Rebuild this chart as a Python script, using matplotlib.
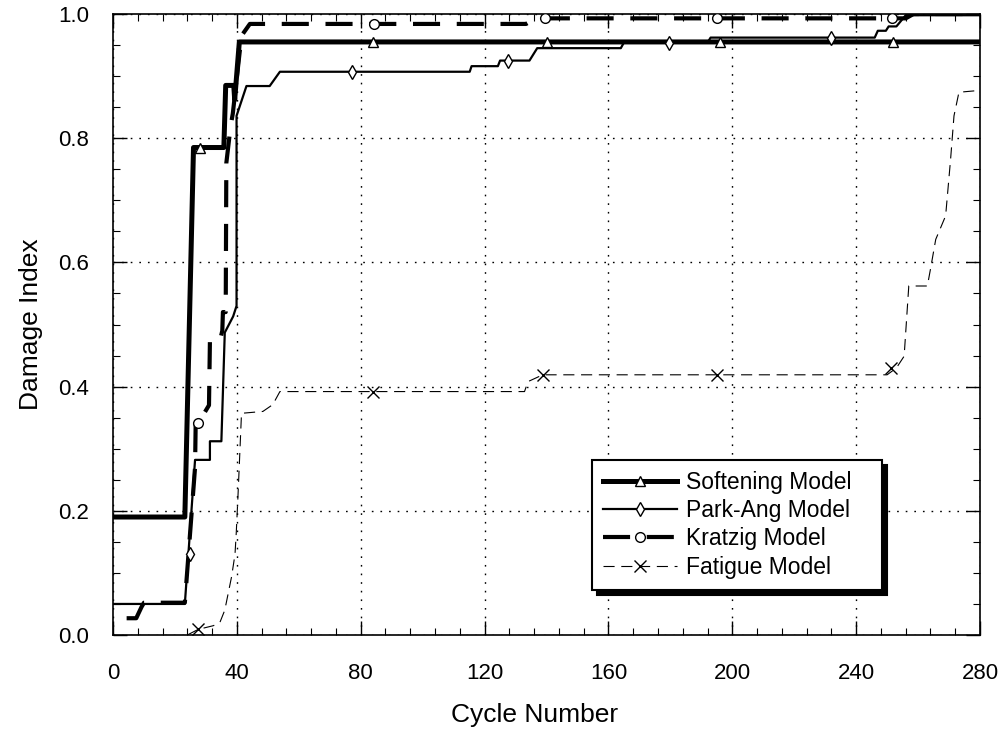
import matplotlib
matplotlib.use("Agg")
import matplotlib.pyplot as plt
from matplotlib.lines import Line2D
from matplotlib.ticker import MultipleLocator, FormatStrFormatter

plt.rcParams['font.family'] = ['Liberation Sans', 'DejaVu Sans']

# ---------------- data ----------------
soft_x = [0, 23.2, 26.0, 35.8, 36.4, 39.0, 39.3, 40.8, 280]
soft_y = [0.19, 0.19, 0.785, 0.785, 0.885, 0.885, 0.862, 0.955, 0.955]
soft_mx = [28, 84, 140, 196, 252]
soft_my = [0.785, 0.955, 0.955, 0.955, 0.955]

park_x = [0, 23.2, 26.5, 31.3, 31.3, 35.0, 36.1, 38.8, 39.9, 39.9, 43.1, 50.6, 53.9,
          115.2, 115.8, 124.3, 125.0, 134.5, 137.0, 164.0, 165.0, 192.0, 193.0,
          246.0, 247.0, 249.6, 250.5, 253.0, 256.0, 280]
park_y = [0.05, 0.05, 0.282, 0.282, 0.312, 0.312, 0.487, 0.513, 0.53, 0.836, 0.884, 0.884, 0.907,
          0.907, 0.916, 0.916, 0.925, 0.925, 0.945, 0.945, 0.954, 0.954, 0.962,
          0.962, 0.973, 0.973, 0.98, 0.98, 0.998, 0.998]
park_mx = [24.8, 77.3, 127.5, 179.7, 232.0]
park_my = [0.13, 0.907, 0.925, 0.954, 0.962]

krat_x = [4.4, 7.5, 9.2, 10.0, 23.2, 26.5, 26.7, 28.0, 31.0, 31.3, 34.5, 35.3, 35.5, 36.4,
          36.6, 38.0, 38.7, 41.5, 44.2, 133.4, 136.7, 256.0, 258.5, 280]
krat_y = [0.027, 0.027, 0.045, 0.052, 0.052, 0.27, 0.34, 0.345, 0.37, 0.473, 0.473, 0.49, 0.52, 0.52,
          0.76, 0.82, 0.84, 0.965, 0.984, 0.984, 0.993, 0.993, 1.0, 1.0]
krat_mx = [27.5, 84.3, 139.4, 195.0, 251.6]
krat_my = [0.341, 0.984, 0.993, 0.993, 0.993]

fat_x = [24.0, 27.5, 32.4, 34.5, 36.1, 38.3, 39.4, 39.8, 40.4, 41.5, 48.4, 51.6, 53.9,
         132.9, 134.0, 138.8, 250.0, 253.0, 255.5, 257.0, 263.0, 264.0, 265.7, 268.9,
         270.5, 271.6, 273.2, 280]
fat_y = [0.0, 0.009, 0.015, 0.02, 0.04, 0.094, 0.13, 0.164, 0.228, 0.357, 0.36, 0.371, 0.392,
         0.392, 0.408, 0.419, 0.419, 0.43, 0.449, 0.562, 0.562, 0.589, 0.637, 0.675,
         0.766, 0.836, 0.874, 0.877]
fat_mx = [27.5, 84.0, 138.8, 195.0, 251.2]
fat_my = [0.009, 0.392, 0.419, 0.419, 0.43]

series_names = ["Softening Model", "Park-Ang Model", "Kratzig Model", "Fatigue Model"]
x_ticks = [0, 40, 80, 120, 160, 200, 240, 280]
y_ticks = [0.0, 0.2, 0.4, 0.6, 0.8, 1.0]

# ---------------- figure ----------------
fig = plt.figure(figsize=(10.06, 7.34), dpi=100)
L, R, T, B = 113, 980, 14, 635
W, H = 1006, 734
ax = fig.add_axes([L / W, 1 - B / H, (R - L) / W, (B - T) / H])

# styles
st_soft = dict(color='black', lw=3.6, ls='-')
st_park = dict(color='black', lw=1.6, ls='-')
st_krat = dict(color='black', lw=3.0, ls=(0, (6.5, 4)))
st_fat = dict(color='black', lw=0.8, ls=(0, (10, 6)))
mk_soft = dict(marker='^', ms=7, mfc='white', mec='black', mew=1.0)
mk_park = dict(marker='d', ms=7, mfc='white', mec='black', mew=1.0)
mk_krat = dict(marker='o', ms=7, mfc='white', mec='black', mew=1.0)
mk_fat = dict(marker='x', ms=9, mfc='none', mec='black', mew=1.0)

ax.plot(fat_x, fat_y, **st_fat, zorder=3)
ax.plot(park_x, park_y, **st_park, zorder=4)
ax.plot(krat_x, krat_y, **st_krat, zorder=5)
ax.plot(soft_x, soft_y, **st_soft, zorder=6)

ax.plot(fat_mx, fat_my, ls='none', **mk_fat, zorder=7)
ax.plot(park_mx, park_my, ls='none', **mk_park, zorder=7)
ax.plot(krat_mx, krat_my, ls='none', **mk_krat, zorder=7)
ax.plot(soft_mx, soft_my, ls='none', **mk_soft, zorder=7)

ax.set_xlim(0, 280)
ax.set_ylim(0, 1.0)
ax.set_xticks(x_ticks)
ax.set_yticks(y_ticks)
ax.xaxis.set_minor_locator(MultipleLocator(8))
ax.yaxis.set_minor_locator(MultipleLocator(0.05))
ax.yaxis.set_major_formatter(FormatStrFormatter('%.1f'))
ax.tick_params(which='both', direction='in', top=True, right=True, colors='black')
ax.tick_params(which='major', length=10, width=1.0, labelsize=16)
ax.tick_params(which='minor', length=5, width=0.8)
ax.tick_params(axis='x', which='major', pad=20)
ax.tick_params(axis='y', which='major', pad=17)
for s in ax.spines.values():
    s.set_linewidth(1.2)

ax.grid(True, which='major', color='black', lw=1.0, ls=(0, (1.2, 5)))
ax.set_axisbelow(True)

fig.text(535 / W, 1 - 715 / H, "Cycle Number", ha='center', va='center', fontsize=19)
fig.text(31 / W, 1 - 324 / H, "Damage Index", ha='center', va='center', rotation=90, fontsize=19)

handles = [
    Line2D([], [], **st_soft, **mk_soft),
    Line2D([], [], **st_park, **mk_park),
    Line2D([], [], **st_krat, **mk_krat),
    Line2D([], [], **st_fat, **mk_fat),
]
bx0 = (592 - L) / (R - L)
by0 = (B - 590) / (B - T)
bw = (882 - 592) / (R - L)
bh = (590 - 455) / (B - T)
leg = ax.legend(handles, series_names, loc='lower left',
                bbox_to_anchor=(bx0, by0, bw, bh), mode='expand',
                borderaxespad=0, fontsize=16.5, frameon=True, fancybox=False,
                framealpha=1, edgecolor='black', numpoints=1,
                handlelength=3.2, handletextpad=0.4, labelspacing=0.22,
                borderpad=0.5,
                shadow={'ox': 3.5, 'oy': -3.5, 'color': 'black', 'alpha': 1})
leg.get_frame().set_linewidth(1.5)
leg.set_zorder(10)

fig.savefig("out.png", dpi=100)
